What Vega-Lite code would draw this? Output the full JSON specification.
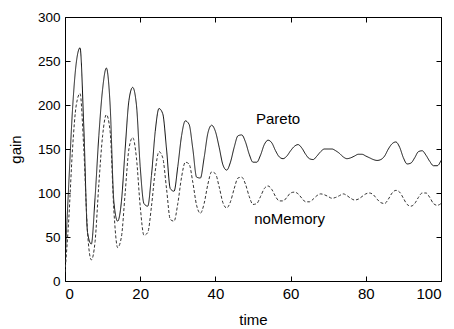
{
  "$schema": "https://vega.github.io/schema/vega-lite/v6.json",
  "width": 376,
  "height": 264,
  "autosize": {"type": "none"},
  "padding": {"left": 65, "top": 17, "right": 13, "bottom": 48},
  "background": "white",
  "config": {
    "view": {"stroke": "black", "strokeWidth": 1},
    "font": "Liberation Sans",
    "axis": {"domain": false, "grid": false, "labelFont": "Liberation Sans", "titleFont": "Liberation Sans", "labelFontSize": 14, "titleFontSize": 15, "titleFontWeight": "normal", "labelColor": "black", "titleColor": "black", "tickColor": "black", "tickSize": -5}
  },
  "datasets": {
    "series": [
      {"time":0,"Pareto":20,"noMemory":10},{"time":1,"Pareto":110,"noMemory":70},{"time":2,"Pareto":195,"noMemory":150},{"time":3,"Pareto":248,"noMemory":200},{"time":4,"Pareto":265,"noMemory":213},{"time":5,"Pareto":175,"noMemory":150},{"time":6,"Pareto":55,"noMemory":55},{"time":7,"Pareto":42,"noMemory":24},{"time":8,"Pareto":95,"noMemory":45},{"time":9,"Pareto":165,"noMemory":110},
      {"time":10,"Pareto":218,"noMemory":165},{"time":11,"Pareto":242,"noMemory":189},{"time":12,"Pareto":200,"noMemory":170},{"time":13,"Pareto":90,"noMemory":80},{"time":14,"Pareto":68,"noMemory":38},{"time":15,"Pareto":90,"noMemory":50},{"time":16,"Pareto":150,"noMemory":100},{"time":17,"Pareto":205,"noMemory":150},{"time":18,"Pareto":220,"noMemory":163},{"time":19,"Pareto":200,"noMemory":140},
      {"time":20,"Pareto":130,"noMemory":85},{"time":21,"Pareto":88,"noMemory":52},{"time":22,"Pareto":85,"noMemory":55},{"time":23,"Pareto":120,"noMemory":85},{"time":24,"Pareto":170,"noMemory":125},{"time":25,"Pareto":196,"noMemory":147},{"time":26,"Pareto":190,"noMemory":140},{"time":27,"Pareto":150,"noMemory":105},{"time":28,"Pareto":105,"noMemory":70},{"time":29,"Pareto":102,"noMemory":68},
      {"time":30,"Pareto":130,"noMemory":88},{"time":31,"Pareto":165,"noMemory":118},{"time":32,"Pareto":182,"noMemory":135},{"time":33,"Pareto":178,"noMemory":133},{"time":34,"Pareto":150,"noMemory":112},{"time":35,"Pareto":118,"noMemory":86},{"time":36,"Pareto":117,"noMemory":77},{"time":37,"Pareto":140,"noMemory":88},{"time":38,"Pareto":168,"noMemory":110},{"time":39,"Pareto":177,"noMemory":124},
      {"time":40,"Pareto":170,"noMemory":122},{"time":41,"Pareto":152,"noMemory":107},{"time":42,"Pareto":132,"noMemory":89},{"time":43,"Pareto":126,"noMemory":83},{"time":44,"Pareto":135,"noMemory":90},{"time":45,"Pareto":152,"noMemory":105},{"time":46,"Pareto":165,"noMemory":117},{"time":47,"Pareto":166,"noMemory":118},{"time":48,"Pareto":158,"noMemory":110},{"time":49,"Pareto":144,"noMemory":96},
      {"time":50,"Pareto":135,"noMemory":87},{"time":51,"Pareto":135,"noMemory":88},{"time":52,"Pareto":143,"noMemory":96},{"time":53,"Pareto":155,"noMemory":105},{"time":54,"Pareto":160,"noMemory":108},{"time":55,"Pareto":157,"noMemory":104},{"time":56,"Pareto":148,"noMemory":96},{"time":57,"Pareto":141,"noMemory":91},{"time":58,"Pareto":139,"noMemory":91},{"time":59,"Pareto":142,"noMemory":95},
      {"time":60,"Pareto":148,"noMemory":100},{"time":61,"Pareto":153,"noMemory":101},{"time":62,"Pareto":155,"noMemory":99},{"time":63,"Pareto":151,"noMemory":94},{"time":64,"Pareto":144,"noMemory":90},{"time":65,"Pareto":139,"noMemory":90},{"time":66,"Pareto":138,"noMemory":93},{"time":67,"Pareto":142,"noMemory":97},{"time":68,"Pareto":147,"noMemory":99},{"time":69,"Pareto":150,"noMemory":98},
      {"time":70,"Pareto":150,"noMemory":96},{"time":71,"Pareto":150,"noMemory":94},{"time":72,"Pareto":148,"noMemory":95},{"time":73,"Pareto":145,"noMemory":97},{"time":74,"Pareto":141,"noMemory":99},{"time":75,"Pareto":139,"noMemory":97},{"time":76,"Pareto":140,"noMemory":94},{"time":77,"Pareto":142,"noMemory":92},{"time":78,"Pareto":144,"noMemory":93},{"time":79,"Pareto":144,"noMemory":96},
      {"time":80,"Pareto":142,"noMemory":99},{"time":81,"Pareto":140,"noMemory":100},{"time":82,"Pareto":138,"noMemory":98},{"time":83,"Pareto":137,"noMemory":93},{"time":84,"Pareto":138,"noMemory":89},{"time":85,"Pareto":142,"noMemory":88},{"time":86,"Pareto":150,"noMemory":93},{"time":87,"Pareto":156,"noMemory":100},{"time":88,"Pareto":158,"noMemory":103},{"time":89,"Pareto":152,"noMemory":101},
      {"time":90,"Pareto":140,"noMemory":94},{"time":91,"Pareto":133,"noMemory":87},{"time":92,"Pareto":134,"noMemory":85},{"time":93,"Pareto":140,"noMemory":88},{"time":94,"Pareto":147,"noMemory":95},{"time":95,"Pareto":148,"noMemory":100},{"time":96,"Pareto":143,"noMemory":100},{"time":97,"Pareto":136,"noMemory":95},{"time":98,"Pareto":131,"noMemory":88},{"time":99,"Pareto":131,"noMemory":86},{"time":100,"Pareto":137,"noMemory":88}
    ],
    "labels": [
      {"time":50.8,"gain":178,"label":"Pareto"},
      {"time":50.3,"gain":65,"label":"noMemory"}
    ]
  },
  "layer": [
    {
      "data": {"name": "series"},
      "transform": [{"fold": ["Pareto", "noMemory"], "as": ["series", "gain"]}],
      "mark": {"type": "line", "strokeWidth": 1, "interpolate": "monotone", "clip": true},
      "encoding": {
        "x": {"field": "time", "type": "quantitative", "scale": {"domain": [0, 100], "nice": false}, "axis": {"title": "time", "values": [0, 20, 40, 60, 80, 100], "labelFontSize": 15, "labelPadding": 10, "titlePadding": 11}},
        "y": {"field": "gain", "type": "quantitative", "scale": {"domain": [0, 300], "nice": false}, "axis": {"title": "gain", "values": [0, 50, 100, 150, 200, 250, 300], "labelFontSize": 13.5, "labelPadding": 10, "titlePadding": 14}},
        "color": {"field": "series", "type": "nominal", "scale": {"domain": ["Pareto", "noMemory"], "range": ["#111111", "#333333"]}, "legend": null},
        "strokeDash": {"field": "series", "type": "nominal", "scale": {"domain": ["Pareto", "noMemory"], "range": [[1, 0], [3, 2]]}, "legend": null}
      }
    },
    {
      "data": {"name": "labels"},
      "mark": {"type": "text", "fontSize": 15, "font": "Liberation Sans", "color": "black", "align": "left", "baseline": "alphabetic"},
      "encoding": {
        "x": {"field": "time", "type": "quantitative", "axis": null},
        "y": {"field": "gain", "type": "quantitative", "axis": null},
        "text": {"field": "label", "type": "nominal"}
      }
    },
    {
      "data": {"values": [{"time": 0, "gain": 0}]},
      "mark": {"type": "point", "opacity": 0},
      "encoding": {
        "x": {"field": "time", "type": "quantitative", "axis": {"orient": "top", "labels": false, "title": null, "values": [0, 20, 40, 60, 80, 100]}},
        "y": {"field": "gain", "type": "quantitative", "axis": {"orient": "right", "labels": false, "title": null, "values": [0, 50, 100, 150, 200, 250, 300]}}
      }
    }
  ],
  "resolve": {"axis": {"x": "independent", "y": "independent"}}
}
